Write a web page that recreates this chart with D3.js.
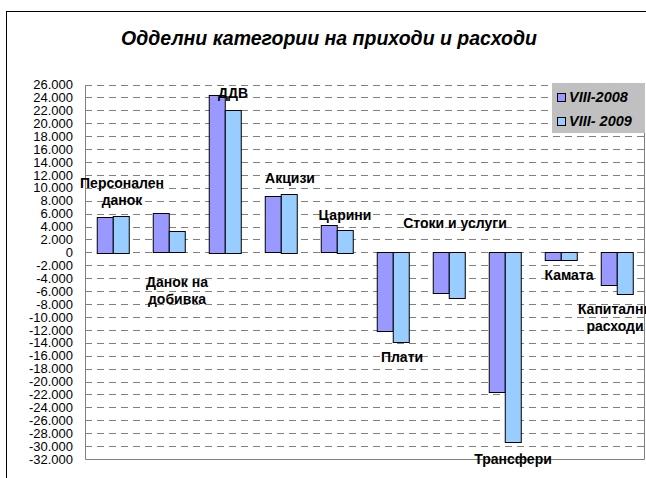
<!DOCTYPE html>
<html>
<head>
<meta charset="utf-8">
<script src="https://cdn.jsdelivr.net/npm/d3@7"></script>
<style>
  body { margin: 0; background: #fff; }
  text { font-family: "Liberation Sans", Arial, sans-serif; }
</style>
</head>
<body>
<div id="svg-area"></div>
<script>
// categories (two-line labels split with |)
var categories = ["Персонален|данок", "Данок на|добивка", "ДДВ", "Акцизи", "Царини",
  "Плати", "Стоки и услуги", "Трансфери", "Камата", "Капитални|расходи"];

// values in thousands
var series2008 = [5.5, 6.1, 24.4, 8.7, 4.2, -12.3, -6.4, -21.7, -1.3, -5.1];
var series2009 = [5.7, 3.3, 22.1, 9.1, 3.5, -14.0, -7.2, -29.5, -1.3, -6.5];
var seriesNames = ["VIII-2008", "VIII- 2009"];

// y axis ticks
var yTicks = d3.range(-32, 27, 2);

// label placement (baseline in data units, shift in px) - these were hand placed in the original
var labelY = [10.0, -5.3, 23.9, 10.7, 5.0, -17.0, 3.7, -32.7, -4.25, -9.5];
var labelDx = [9, 8, 8, 9, 8, 9, 6, 8, 8, -2];

var width = 646, height = 478;
var colors = ["#9999FF", "#99CCFF"];

var svg = d3.select("#svg-area")
  .append("svg")
  .attr("width", width)
  .attr("height", height);

// outer chart border (runs off the right and bottom of the picture)
svg.append("rect")
  .attr("x", 6.5)
  .attr("y", 11.5)
  .attr("width", 700)
  .attr("height", 500)
  .attr("fill", "white")
  .attr("stroke", "black")
  .attr("stroke-width", 1);

// title
svg.append("text")
  .attr("x", 329)
  .attr("y", 45)
  .attr("text-anchor", "middle")
  .style("font-size", "19.5px")
  .style("font-weight", "bold")
  .style("font-style", "italic")
  .text("Одделни категории на приходи и расходи");

var plot = { left: 85, right: 645, top: 84.5, bottom: 459 };

var y = d3.scaleLinear()
  .domain([-32, 26])
  .range([plot.bottom, plot.top]);

var x0 = d3.scaleBand()
  .domain(categories)
  .range([plot.left, plot.right])
  .paddingInner(0.42)
  .paddingOuter(0.21);

var x1 = d3.scaleBand()
  .domain([0, 1])
  .range([0, x0.bandwidth()]);

// dashed gridlines
svg.append("g")
  .selectAll("line")
  .data(yTicks.filter(function (d) { return d > -32; }))
  .enter()
  .append("line")
  .attr("x1", plot.left)
  .attr("x2", plot.right)
  .attr("y1", function (d) { return Math.round(y(d)) + 0.5; })
  .attr("y2", function (d) { return Math.round(y(d)) + 0.5; })
  .attr("stroke", "#808080")
  .attr("stroke-width", 1)
  .attr("stroke-dasharray", "7,5");

// plot area border left / bottom / right
svg.append("path")
  .attr("d", "M" + (plot.left + 0.5) + "," + Math.round(plot.top) +
    "V" + (Math.round(plot.bottom) + 0.5) +
    "H" + (plot.right - 0.5) +
    "V" + Math.round(plot.top))
  .attr("fill", "none")
  .attr("stroke", "#808080")
  .attr("stroke-width", 1);

// y axis labels
var yAxis = d3.axisLeft(y)
  .tickValues(yTicks)
  .tickSize(0)
  .tickPadding(0)
  .tickFormat(function (d) { return d === 0 ? "0" : (d < 0 ? "-" : "") + Math.abs(d) + ".000"; });

var yG = svg.append("g")
  .attr("transform", "translate(73,0)")
  .call(yAxis);
yG.select(".domain").remove();
yG.selectAll("text")
  .style("font-size", "13px")
  .attr("fill", "black");

// bars
var rows = categories.map(function (c, i) { return { cat: c, vals: [series2008[i], series2009[i]] }; });

var groups = svg.append("g")
  .selectAll("g")
  .data(rows)
  .enter()
  .append("g")
  .attr("transform", function (d) { return "translate(" + x0(d.cat) + ",0)"; });

groups.selectAll("rect")
  .data(function (d) { return d.vals; })
  .enter()
  .append("rect")
  .attr("x", function (d, i) { return Math.round(x1(i)) + 0.5; })
  .attr("y", function (d) { return Math.round(y(Math.max(0, d))) + 0.5; })
  .attr("width", Math.round(x1.bandwidth()))
  .attr("height", function (d) { return Math.round(Math.abs(y(d) - y(0))); })
  .attr("fill", function (d, i) { return colors[i]; })
  .attr("stroke", "black")
  .attr("stroke-width", 1);

// category labels
var labels = svg.append("g")
  .selectAll("text")
  .data(categories)
  .enter()
  .append("text")
  .attr("text-anchor", "middle")
  .attr("x", function (d, i) { return x0(d) + x0.bandwidth() / 2 + labelDx[i]; })
  .attr("y", function (d, i) { return y(labelY[i]); })
  .style("font-size", "14px")
  .style("font-weight", "bold");

labels.selectAll("tspan")
  .data(function (d, i) { return d.split("|").map(function (t) { return { t: t, i: i }; }); })
  .enter()
  .append("tspan")
  .attr("x", function (d) { return x0(categories[d.i]) + x0.bandwidth() / 2 + labelDx[d.i]; })
  .attr("dy", function (d, j) { return j === 0 ? 0 : 17; })
  .text(function (d) { return d.t; });

// legend
var legend = svg.append("g");
legend.append("rect")
  .attr("x", 552)
  .attr("y", 83)
  .attr("width", 93)
  .attr("height", 50)
  .attr("fill", "#C0C0C0");

var items = legend.selectAll("g")
  .data(seriesNames)
  .enter()
  .append("g")
  .attr("transform", function (d, i) { return "translate(0," + (97 + i * 24) + ")"; });

items.append("rect")
  .attr("x", 557.5)
  .attr("y", -3.5)
  .attr("width", 8)
  .attr("height", 8)
  .attr("fill", function (d, i) { return colors[i]; })
  .attr("stroke", "black");

items.append("text")
  .attr("x", 569)
  .attr("y", 5)
  .style("font-size", "14.5px")
  .style("font-weight", "bold")
  .style("font-style", "italic")
  .text(function (d) { return d; });
</script>
</body>
</html>
